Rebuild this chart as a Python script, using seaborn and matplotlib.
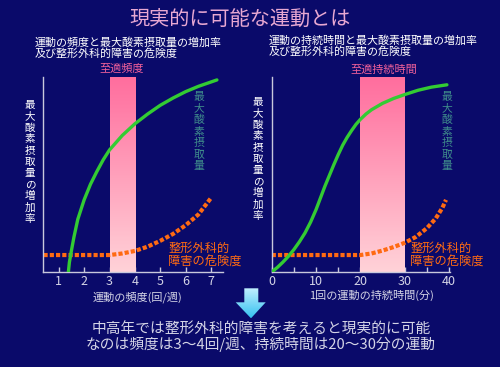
import matplotlib
matplotlib.use("Agg")
import matplotlib.pyplot as plt
import seaborn as sns
import numpy as np
import pandas as pd
from matplotlib.colors import LinearSegmentedColormap
from matplotlib.patches import Polygon

# ---- data (y: 0-100 relative scale) ----
freq_x = [1.38, 1.42, 1.5, 1.6, 1.75, 2.0, 2.25, 2.5, 2.75, 3.0, 3.5, 4.0,
          4.5, 5.0, 5.5, 6.0, 6.5, 7.23]
freq_vo2 = [0, 5, 11, 18, 27, 37, 45, 51.5, 57.5, 62.6, 70, 76,
            81, 85.5, 89.2, 92.5, 95.2, 98.5]
freq_risk_x = [0.4, 1, 2, 3, 3.5, 4, 4.5, 5, 5.5, 6, 6.5, 7]
freq_risk = [8.7, 8.7, 8.7, 8.7, 9.5, 10.8, 13, 16, 19.5, 24, 29.5, 38]
freq_ticks = [1, 2, 3, 4, 5, 6, 7]
freq_band = (3, 4)

dur_x = [0, 1.25, 2.5, 3.75, 5, 6.25, 7.5, 8.75, 10, 11, 12, 13, 14, 15, 16,
         17, 18, 19, 20, 21.25, 22.5, 25, 27.5, 30, 33, 36, 39.5]
dur_vo2 = [0, 2.3, 5, 8, 11.5, 15.5, 20, 25.5, 32, 38, 44, 49.5, 55, 60.2, 65,
           69, 72.5, 75.7, 78.3, 81, 83.2, 86.5, 89, 91, 93.2, 94.8, 96]
dur_risk_x = [0, 10, 20, 22.5, 25, 27.5, 30, 32.5, 35, 37, 38.5, 39.3]
dur_risk = [8.7, 8.7, 8.7, 9.5, 11, 12.8, 15, 18, 22.5, 27.5, 33, 37]
dur_ticks = [0, 10, 20, 30, 40]
dur_minor = [5, 15, 25, 35]
dur_band = (20, 30)

title = "現実的に可能な運動とは"
sub_left = "運動の頻度と最大酸素摂取量の増加率\n及び整形外科的障害の危険度"
sub_right = "運動の持続時間と最大酸素摂取量の増加率\n及び整形外科的障害の危険度"
ylab = "最大酸素摂取量の増加率"
vo2_lab = "最大酸素摂取量"
risk_lab = "整形外科的\n障害の危険度"
band_left = "至適頻度"
band_right = "至適持続時間"
xlab_left = "運動の頻度(回/週)"
xlab_right = "1回の運動の持続時間(分)"
conclusion = "中高年では整形外科的障害を考えると現実的に可能\nなのは頻度は3～4回/週、持続時間は20～30分の運動"

BG = "#0a0a6a"
GREEN = "#33cc33"
ORANGE = "#ff6a12"
TEAL = "#3f8b8b"
PINK_TXT = "#f0609a"
LIGHT = "#d4d4e6"

sns.set_theme(style="white")
plt.rcParams["font.family"] = ["Noto Sans CJK JP", "DejaVu Sans"]

W, H = 500, 367
fig = plt.figure(figsize=(5, 3.67), dpi=100, facecolor=BG)


def px(x, y):
    return x / W, 1 - y / H


band_cmap = LinearSegmentedColormap.from_list("band", ["#ffd2d8", "#ff6e9e"])


def panel(rect, xlim, band, gx, gy, rx, ry, ticks, minor=None):
    ax = fig.add_axes(rect)
    ax.set_facecolor(BG)
    grad = np.linspace(0, 1, 100).reshape(-1, 1)
    ax.imshow(grad, cmap=band_cmap, origin="lower", aspect="auto",
              extent=[band[0], band[1], 0, 100], zorder=1)
    d1 = pd.DataFrame({"x": gx, "y": gy})
    d2 = pd.DataFrame({"x": rx, "y": ry})
    sns.lineplot(data=d1, x="x", y="y", ax=ax, color=GREEN, lw=2.4,
                 sort=False, zorder=3)
    sns.lineplot(data=d2, x="x", y="y", ax=ax, color=ORANGE, lw=3.0,
                 sort=False, zorder=2, linestyle=(0, (1, 0.5)),
                 dash_capstyle="butt")
    ax.set_xlim(*xlim)
    ax.set_ylim(0, 100)
    ax.set_xticks(ticks)
    ax.set_xticklabels([str(t) for t in ticks])
    if minor is not None:
        ax.set_xticks(minor, minor=True)
    ax.set_yticks([])
    ax.set_xlabel("")
    ax.set_ylabel("")
    for s in ["top", "right"]:
        ax.spines[s].set_visible(False)
    for s in ["left", "bottom"]:
        ax.spines[s].set_color("#c8c8dc")
        ax.spines[s].set_linewidth(1.0)
    ax.tick_params(axis="x", which="both", direction="in", length=3.5,
                   width=1, color="#c8c8dc", labelcolor=LIGHT,
                   labelsize=9, pad=2, bottom=True)
    return ax


panel([43 / W, 1 - 272 / H, 180 / W, 195 / H], (0.38, 7.47), freq_band,
      freq_x, freq_vo2, freq_risk_x, freq_risk, freq_ticks)
panel([271.7 / W, 1 - 272 / H, 178.3 / W, 195 / H], (0, 40.2), dur_band,
      dur_x, dur_vo2, dur_risk_x, dur_risk, dur_ticks, dur_minor)

# titles and labels
fig.text(*px(240, 19), title, color="#e8a8d2", fontsize=14.5,
         ha="center", va="center")
fig.text(*px(35, 48), sub_left, color="white", fontsize=7.9,
         ha="left", va="center", linespacing=1.0)
fig.text(*px(269, 46), sub_right, color="white", fontsize=7.9,
         ha="left", va="center", linespacing=1.0)
fig.text(*px(122, 69), band_left, color=PINK_TXT, fontsize=8,
         ha="center", va="center")
fig.text(*px(384, 70), band_right, color=PINK_TXT, fontsize=8,
         ha="center", va="center")

vert = lambda s: "\n".join(s)
for xc, yt in [(30, 100), (258, 97)]:
    fig.text(*px(xc, yt), vert(ylab), color="white", fontsize=7.6,
             ha="center", va="top", linespacing=1.17)
for xc in [199, 446.7]:
    fig.text(*px(xc, 92), vert(vo2_lab), color=TEAL, fontsize=7.8,
             ha="center", va="top", linespacing=1.17)
for xl in [168, 410]:
    fig.text(*px(xl, 255), risk_lab, color=ORANGE, fontsize=8.8,
             ha="left", va="center", linespacing=0.95)

fig.text(*px(137, 297), xlab_left, color=LIGHT, fontsize=8,
         ha="center", va="center")
fig.text(*px(372, 295), xlab_right, color=LIGHT, fontsize=8,
         ha="center", va="center")
fig.text(*px(261, 337), conclusion, color=LIGHT, fontsize=10.6,
         ha="center", va="center", linespacing=1.0)

# down arrow with gradient fill
aax = fig.add_axes([0, 0, 1, 1], zorder=5)
aax.set_xlim(0, W)
aax.set_ylim(H, 0)
aax.axis("off")
arrow_pts = [(244.3, 288.3), (258.3, 288.3), (258.3, 302.3), (265.7, 302.3),
             (251, 318.3), (235.7, 302.3), (244.3, 302.3)]
poly = Polygon(arrow_pts, closed=True, facecolor="none", edgecolor="none")
aax.add_patch(poly)
acmap = LinearSegmentedColormap.from_list("arr", ["#c4f0ff", "#36c2f0"])
im = aax.imshow(np.linspace(0, 1, 50).reshape(-1, 1), cmap=acmap,
                extent=[235, 266, 318.5, 288], aspect="auto")
im.set_clip_path(poly)
aax.set_xlim(0, W)
aax.set_ylim(H, 0)

fig.savefig("out.png", dpi=100, facecolor=BG)
